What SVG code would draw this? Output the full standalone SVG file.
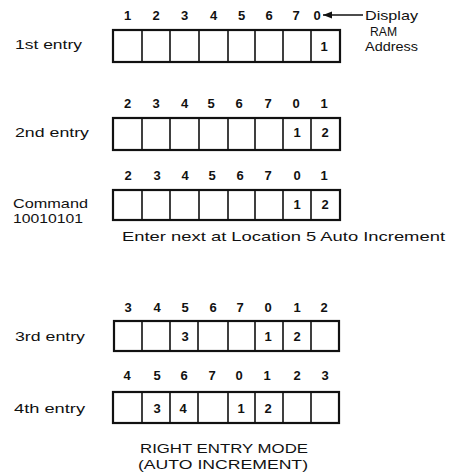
<svg xmlns="http://www.w3.org/2000/svg" width="452" height="475" viewBox="0 0 452 475">
<style>
  text { font-family: "Liberation Sans", Arial, sans-serif; fill: #111; }
  .lbl { font-size: 13.5px; }
  .num { font-size: 13px; font-weight: bold; text-anchor: middle; }
  .cell { font-size: 13px; font-weight: bold; text-anchor: middle; }
  .box { fill: #fff; stroke: #111; stroke-width: 2.2; }
  .div { stroke: #111; stroke-width: 1.6; }
  .conn { stroke: #111; stroke-width: 1.6; fill: none; }
</style>
<defs>
  <marker id="ah" markerWidth="10" markerHeight="8" refX="9" refY="4" orient="auto" markerUnits="userSpaceOnUse">
    <path d="M0,0.5 L9,4 L0,7.5 Z" fill="#111"/>
  </marker>
</defs>

<g id="row1">
  <text class="lbl" x="15" y="49" textLength="67" lengthAdjust="spacingAndGlyphs">1st entry</text>
  <g class="num">
    <text x="127.5" y="20">1</text><text x="156" y="20">2</text><text x="184.5" y="20">3</text><text x="213.5" y="20">4</text>
    <text x="241.5" y="20">5</text><text x="269" y="20">6</text><text x="296" y="20">7</text><text x="317" y="20">0</text>
  </g>
  <rect class="box" x="113" y="30" width="227" height="32"/>
  <path class="div" d="M142,30V62M170,30V62M199,30V62M228,30V62M255,30V62M283,30V62M311,30V62"/>
  <text class="cell" x="324" y="51">1</text>
</g>

<g id="ram-label">
  <text class="lbl" x="365" y="20" textLength="53" lengthAdjust="spacingAndGlyphs">Display</text>
  <text class="lbl" x="370" y="36" textLength="27" lengthAdjust="spacingAndGlyphs">RAM</text>
  <text class="lbl" x="365" y="51" textLength="53" lengthAdjust="spacingAndGlyphs">Address</text>
</g>

<g id="row2">
  <text class="lbl" x="15" y="137" textLength="74" lengthAdjust="spacingAndGlyphs">2nd entry</text>
  <g class="num">
    <text x="127.5" y="108">2</text><text x="156" y="108">3</text><text x="184.5" y="108">4</text><text x="211" y="108">5</text>
    <text x="239" y="108">6</text><text x="268" y="108">7</text><text x="296" y="108">0</text><text x="324" y="108">1</text>
  </g>
  <rect class="box" x="113" y="118" width="227" height="32"/>
  <path class="div" d="M142,118V150M170,118V150M199,118V150M228,118V150M255,118V150M283,118V150M311,118V150"/>
  <text class="cell" x="297" y="137">1</text><text class="cell" x="325" y="137">2</text>
</g>

<g id="command">
  <text class="lbl" x="13" y="208" textLength="75" lengthAdjust="spacingAndGlyphs">Command</text>
  <text class="lbl" x="13" y="223" textLength="70" lengthAdjust="spacingAndGlyphs">10010101</text>
  <g class="num">
    <text x="128" y="180">2</text><text x="157" y="180">3</text><text x="185" y="180">4</text><text x="212" y="180">5</text>
    <text x="240" y="180">6</text><text x="268" y="180">7</text><text x="297" y="180">0</text><text x="324" y="180">1</text>
  </g>
  <rect class="box" x="113" y="190" width="227" height="30"/>
  <path class="div" d="M142,190V220M170,190V220M199,190V220M228,190V220M255,190V220M283,190V220M311,190V220"/>
  <text class="cell" x="297" y="209">1</text><text class="cell" x="325" y="209">2</text>
  <text class="lbl" x="122" y="241" textLength="323" lengthAdjust="spacingAndGlyphs">Enter next at Location 5 Auto Increment</text>
</g>

<g id="row3">
  <text class="lbl" x="15" y="341" textLength="70" lengthAdjust="spacingAndGlyphs">3rd entry</text>
  <g class="num">
    <text x="128" y="312">3</text><text x="157" y="312">4</text><text x="185" y="312">5</text><text x="213" y="312">6</text>
    <text x="240" y="312">7</text><text x="268" y="312">0</text><text x="297" y="312">1</text><text x="324" y="312">2</text>
  </g>
  <rect class="box" x="114" y="321" width="225" height="30"/>
  <path class="div" d="M142,321V351M170,321V351M198,321V351M228,321V351M255,321V351M283,321V351M311,321V351"/>
  <text class="cell" x="185" y="341">3</text><text class="cell" x="268" y="341">1</text><text class="cell" x="297" y="341">2</text>
</g>

<g id="row4">
  <text class="lbl" x="14" y="413" textLength="71" lengthAdjust="spacingAndGlyphs">4th entry</text>
  <g class="num">
    <text x="127" y="380">4</text><text x="157" y="380">5</text><text x="184" y="380">6</text><text x="212" y="380">7</text>
    <text x="239" y="380">0</text><text x="267" y="380">1</text><text x="297" y="380">2</text><text x="325" y="380">3</text>
  </g>
  <rect class="box" x="113" y="392" width="226" height="31"/>
  <path class="div" d="M142,392V423M170,392V423M198,392V423M228,392V423M255,392V423M283,392V423M311,392V423"/>
  <text class="cell" x="157" y="413">3</text><text class="cell" x="183" y="413">4</text><text class="cell" x="241" y="413">1</text><text class="cell" x="268" y="413">2</text>
</g>

<g id="caption">
  <text class="lbl" x="140" y="453" textLength="168" lengthAdjust="spacingAndGlyphs">RIGHT ENTRY MODE</text>
  <text class="lbl" x="138" y="469" textLength="170" lengthAdjust="spacingAndGlyphs">(AUTO INCREMENT)</text>
</g>

<g id="connectors">
  <line class="conn" x1="363" y1="15" x2="323" y2="15" marker-end="url(#ah)"/>
</g>
</svg>
